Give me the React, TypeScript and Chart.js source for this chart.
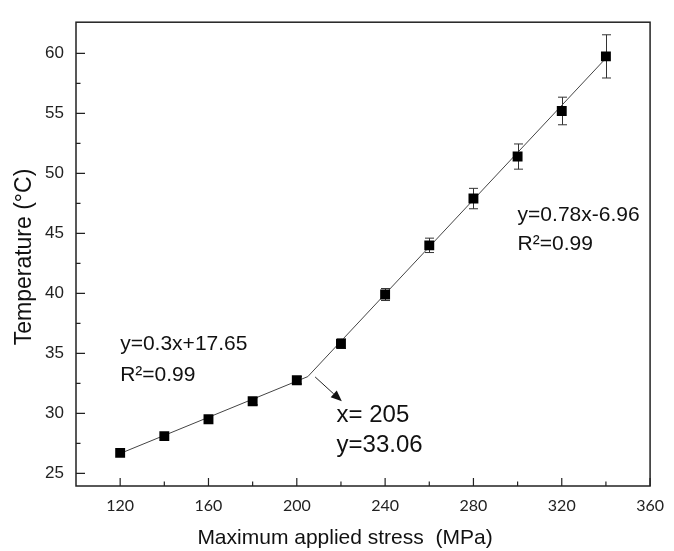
import React, { useEffect, useRef } from "react";
import { Chart, registerables } from "chart.js";

Chart.register(...registerables);

// ---- data ----
const stress = [120, 140, 160, 180, 200, 220, 240, 260, 280, 300, 320, 340];
const temperature = [26.7, 28.1, 29.5, 31.0, 32.75, 35.8, 39.9, 44.0, 47.9, 51.4, 55.2, 59.75];
const tempError = [0.2, 0.2, 0.3, 0.3, 0.3, 0.4, 0.5, 0.6, 0.85, 1.05, 1.15, 1.8];

const fitX = [120, 205, 340];
const fitY = [26.65, 33.06, 59.6];

const xTicks = [120, 160, 200, 240, 280, 320, 360];
const xMinorTicks = [140, 180, 220, 260, 300, 340];
const yTicks = [25, 30, 35, 40, 45, 50, 55, 60];
const yMinorTicks = [27.5, 32.5, 37.5, 42.5, 47.5, 52.5, 57.5];

const xTitle = "Maximum applied stress  (MPa)";
const yTitle = "Temperature (\u00B0C)";

// annotation texts, anchored in data coordinates
const notes = [
  { text: "y=0.3x+17.65", x: 120, y: 35.8, size: 21 },
  { text: "R\u00B2=0.99", x: 120, y: 33.2, size: 21 },
  { text: "x= 205", x: 218, y: 29.8, size: 24 },
  { text: "y=33.06", x: 218, y: 27.3, size: 24 },
  { text: "y=0.78x-6.96", x: 300, y: 46.5, size: 21 },
  { text: "R\u00B2=0.99", x: 300, y: 44.1, size: 21 },
];
const arrowFrom = { x: 208.3, y: 33.03 };
const arrowTo = { x: 220.4, y: 31.0 };

const FONT = "'Liberation Sans', Arial, sans-serif";

const decor = {
  id: "decor",
  beforeDatasetsDraw(chart: any) {
    const { ctx, scales } = chart;
    const x = scales.x;
    const y = scales.y;
    ctx.save();
    ctx.strokeStyle = "#333";
    ctx.lineWidth = 1;
    stress.forEach((s, i) => {
      const px = Math.round(x.getPixelForValue(s)) + 0.5;
      const top = y.getPixelForValue(temperature[i] + tempError[i]);
      const bot = y.getPixelForValue(temperature[i] - tempError[i]);
      ctx.beginPath();
      ctx.moveTo(px, top);
      ctx.lineTo(px, bot);
      ctx.moveTo(px - 4.5, top);
      ctx.lineTo(px + 4.5, top);
      ctx.moveTo(px - 4.5, bot);
      ctx.lineTo(px + 4.5, bot);
      ctx.stroke();
    });
    ctx.restore();
  },
  afterDraw(chart: any) {
    const { ctx, chartArea, scales } = chart;
    const x = scales.x;
    const y = scales.y;
    const { left, right, top, bottom } = chartArea;
    ctx.save();
    // frame
    ctx.strokeStyle = "#222";
    ctx.lineWidth = 1.5;
    ctx.strokeRect(left, top, right - left, bottom - top);
    // inward ticks
    ctx.lineWidth = 1.2;
    ctx.beginPath();
    yTicks.forEach((v) => {
      const py = y.getPixelForValue(v);
      ctx.moveTo(left, py);
      ctx.lineTo(left + 9, py);
    });
    yMinorTicks.forEach((v) => {
      const py = y.getPixelForValue(v);
      ctx.moveTo(left, py);
      ctx.lineTo(left + 4.5, py);
    });
    xTicks.forEach((v) => {
      const px = x.getPixelForValue(v);
      ctx.moveTo(px, bottom);
      ctx.lineTo(px, bottom - 8);
    });
    xMinorTicks.forEach((v) => {
      const px = x.getPixelForValue(v);
      ctx.moveTo(px, bottom);
      ctx.lineTo(px, bottom - 4.5);
    });
    ctx.stroke();

    // arrow
    const ax0 = x.getPixelForValue(arrowFrom.x);
    const ay0 = y.getPixelForValue(arrowFrom.y);
    const ax1 = x.getPixelForValue(arrowTo.x);
    const ay1 = y.getPixelForValue(arrowTo.y);
    const ang = Math.atan2(ay1 - ay0, ax1 - ax0);
    const hl = 11;
    const hw = 4.5;
    ctx.strokeStyle = "#222";
    ctx.fillStyle = "#111";
    ctx.lineWidth = 1;
    ctx.beginPath();
    ctx.moveTo(ax0, ay0);
    ctx.lineTo(ax1 - hl * Math.cos(ang), ay1 - hl * Math.sin(ang));
    ctx.stroke();
    ctx.beginPath();
    ctx.moveTo(ax1, ay1);
    ctx.lineTo(
      ax1 - hl * Math.cos(ang) + hw * Math.sin(ang),
      ay1 - hl * Math.sin(ang) - hw * Math.cos(ang)
    );
    ctx.lineTo(
      ax1 - hl * Math.cos(ang) - hw * Math.sin(ang),
      ay1 - hl * Math.sin(ang) + hw * Math.cos(ang)
    );
    ctx.closePath();
    ctx.fill();

    // annotation texts
    ctx.fillStyle = "#111";
    ctx.textBaseline = "middle";
    ctx.textAlign = "left";
    notes.forEach((n) => {
      ctx.font = `${n.size}px ${FONT}`;
      ctx.fillText(n.text, x.getPixelForValue(n.x), y.getPixelForValue(n.y));
    });

    // axis titles
    ctx.textAlign = "center";
    ctx.font = `21px ${FONT}`;
    ctx.fillText(xTitle, 345, 538);
    ctx.save();
    ctx.translate(25, 257);
    ctx.rotate(-Math.PI / 2);
    ctx.font = `23px ${FONT}`;
    ctx.fillText(yTitle, 0, 0);
    ctx.restore();

    ctx.restore();
  },
};

export default function App() {
  const ref = useRef<HTMLCanvasElement | null>(null);

  useEffect(() => {
    if (!ref.current) return;
    const chart = new Chart(ref.current, {
      type: "scatter",
      data: {
        datasets: [
          {
            label: "Temperature",
            data: stress.map((s, i) => ({ x: s, y: temperature[i] })),
            pointStyle: "rect",
            pointRadius: 7,
            pointHoverRadius: 7,
            backgroundColor: "#000",
            borderColor: "#000",
            borderWidth: 0,
            showLine: false,
            order: 0,
          },
          {
            type: "line",
            label: "Fit",
            data: fitX.map((v, i) => ({ x: v, y: fitY[i] })),
            borderColor: "#444",
            borderWidth: 1,
            pointRadius: 0,
            fill: false,
            tension: 0,
            order: 1,
          } as any,
        ],
      },
      options: {
        responsive: false,
        animation: false,
        layout: { padding: { top: 10, right: 12, left: 0, bottom: 0 } },
        plugins: {
          legend: { display: false },
          tooltip: { enabled: false },
        },
        scales: {
          x: {
            type: "linear",
            min: 100,
            max: 360,
            grid: { display: false, drawTicks: false },
            border: { display: false },
            afterBuildTicks: (s: any) => {
              s.ticks = xTicks.map((v) => ({ value: v }));
            },
            afterFit: (s: any) => {
              s.height = 65;
            },
            ticks: {
              padding: 10,
              color: "#222",
              font: { family: "Lato, 'Liberation Sans', sans-serif", size: 16 },
              maxRotation: 0,
            },
          },
          y: {
            type: "linear",
            min: 23.94,
            max: 62.6,
            grid: { display: false, drawTicks: false },
            border: { display: false },
            afterBuildTicks: (s: any) => {
              s.ticks = yTicks.map((v) => ({ value: v }));
            },
            afterFit: (s: any) => {
              s.width = 76;
            },
            ticks: {
              padding: 12,
              color: "#222",
              font: { family: FONT, size: 17 },
            },
          },
        },
      },
      plugins: [decor],
    });
    return () => chart.destroy();
  }, []);

  return (
    <div style={{ position: "absolute", left: 0, top: 0, width: 674, height: 551, background: "#fff" }}>
      <canvas ref={ref} width={674} height={551} style={{ display: "block" }} />
    </div>
  );
}
